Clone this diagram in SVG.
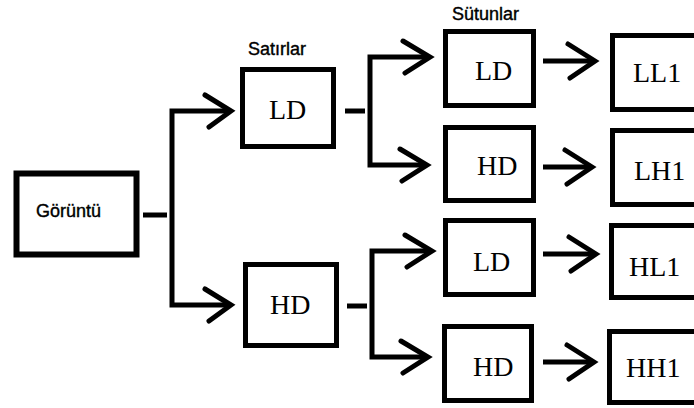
<svg xmlns="http://www.w3.org/2000/svg" width="694" height="408" viewBox="0 0 694 408">
<style>
.box{fill:#fff;stroke:#000;stroke-width:5}
.lbl{font-family:"Liberation Sans",Arial,sans-serif;font-size:18px;fill:#000;stroke:#000;stroke-width:0.4}
.t{font-family:"Liberation Serif","Times New Roman",serif;font-size:28px;fill:#000}
.c{fill:none;stroke:#000;stroke-width:5;stroke-linejoin:miter}
.ah{fill:none;stroke:#000;stroke-width:5;stroke-linecap:round;stroke-linejoin:miter}
</style>
<rect width="694" height="408" fill="#fff"/>
<g id="connectors">
<path class="c" d="M143,215 H167"/>
<path class="c" d="M230,111 H172 V305 H230"/>
<path class="ah" d="M205,95 L231,111 L209,127"/>
<path class="ah" d="M205,289 L231,305 L209,321"/>
<path class="c" d="M345,111 H365"/>
<path class="c" d="M429,57 H370 V165 H426"/>
<path class="ah" d="M403,41 L430,57 L405,73"/>
<path class="ah" d="M400,149 L427,165 L402,181"/>
<path class="c" d="M347,306 H367"/>
<path class="c" d="M431,251 H372 V357 H427"/>
<path class="ah" d="M405,235 L432,251 L407,267"/>
<path class="ah" d="M401,341 L428,357 L403,373"/>
<path class="c" d="M543,61 H594"/>
<path class="ah" d="M568,44 L595,61 L570,78"/>
<path class="c" d="M543,167 H591"/>
<path class="ah" d="M565,150 L592,167 L567,184"/>
<path class="c" d="M543,254 H595"/>
<path class="ah" d="M569,237 L596,254 L571,271"/>
<path class="c" d="M543,362 H593"/>
<path class="ah" d="M567,345 L594,362 L569,379"/>
</g>
<g id="goruntu">
<rect class="box" x="16.5" y="173.5" width="120" height="81" style="stroke-width:6"/>
<text class="lbl" x="36" y="217">Görüntü</text>
</g>
<g id="satirlar-label"><text class="lbl" x="248" y="55">Satırlar</text></g>
<g id="sutunlar-label"><text class="lbl" x="452" y="20">Sütunlar</text></g>
<g id="row-ld">
<rect class="box" x="242.5" y="69.5" width="91" height="77"/>
<text class="t" x="269" y="119">LD</text>
</g>
<g id="row-hd">
<rect class="box" x="245.5" y="264.5" width="91" height="81"/>
<text class="t" x="270" y="314">HD</text>
</g>
<g id="col-ld1">
<rect class="box" x="445.5" y="31.5" width="88" height="74"/>
<text class="t" x="475" y="80">LD</text>
</g>
<g id="col-hd1">
<rect class="box" x="445.5" y="127.5" width="88" height="73"/>
<text class="t" x="477" y="175">HD</text>
</g>
<g id="col-ld2">
<rect class="box" x="445.5" y="220.5" width="88" height="74"/>
<text class="t" x="473" y="271">LD</text>
</g>
<g id="col-hd2">
<rect class="box" x="444.5" y="326.5" width="87" height="74"/>
<text class="t" x="473" y="376">HD</text>
</g>
<g id="ll1">
<rect class="box" x="612.5" y="35.5" width="100" height="74"/>
<text class="t" x="633" y="82">LL1</text>
</g>
<g id="lh1">
<rect class="box" x="612.5" y="130.5" width="100" height="74"/>
<text class="t" x="634" y="180">LH1</text>
</g>
<g id="hl1">
<rect class="box" x="611.5" y="225.5" width="100" height="72"/>
<text class="t" x="629" y="276">HL1</text>
</g>
<g id="hh1">
<rect class="box" x="609.5" y="331.5" width="100" height="71"/>
<text class="t" x="626" y="377">HH1</text>
</g>
</svg>
